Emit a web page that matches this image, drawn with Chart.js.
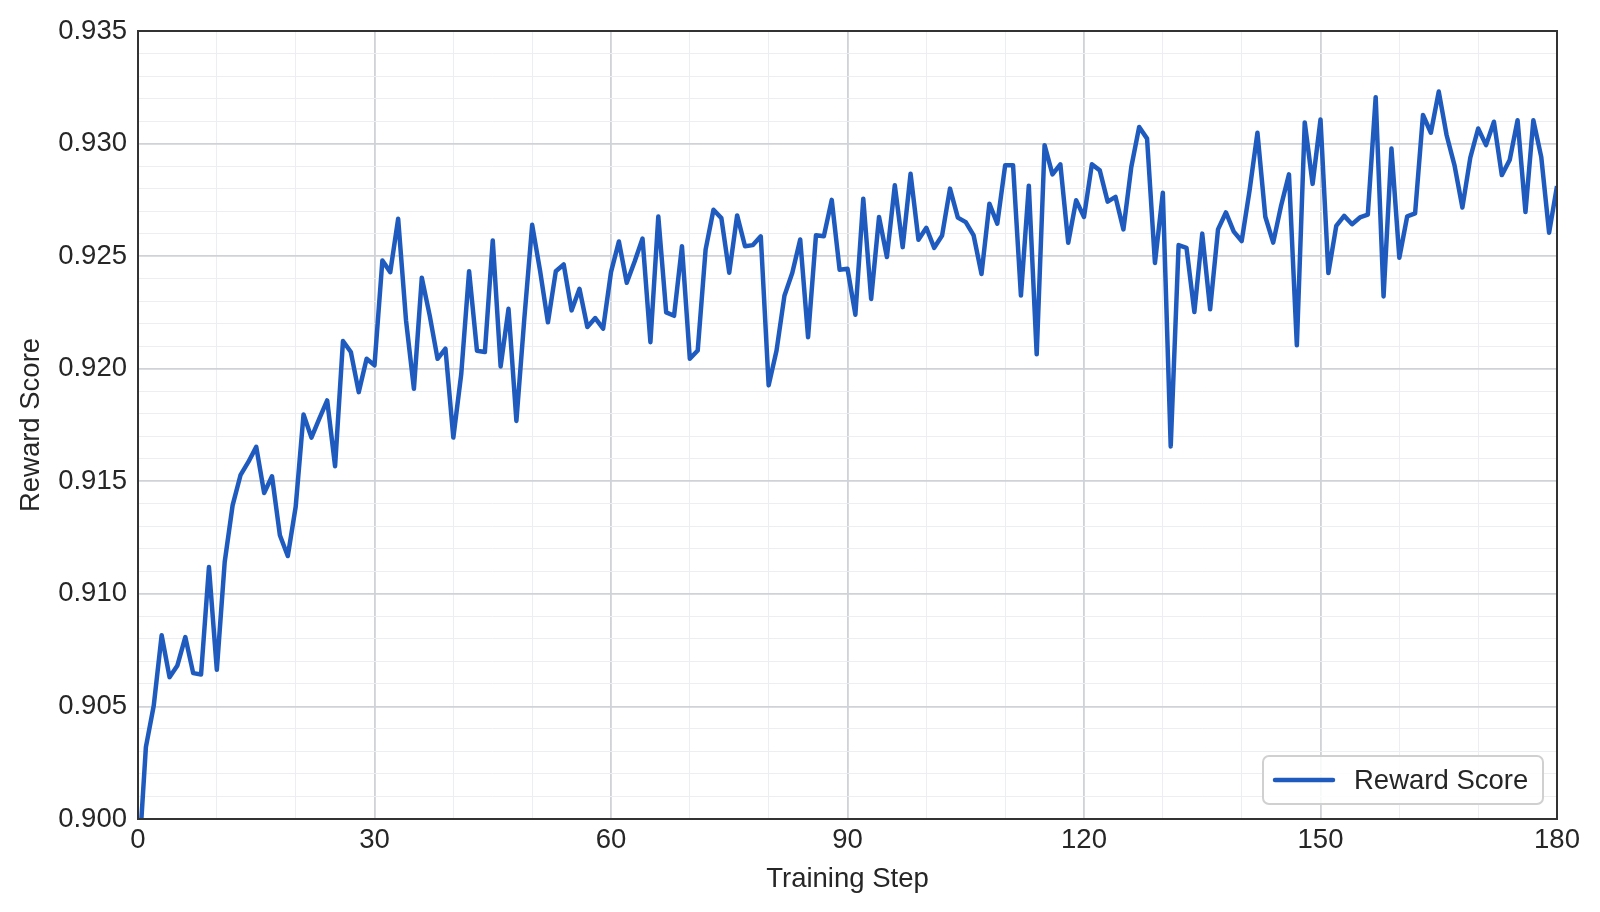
<!DOCTYPE html>
<html>
<head>
<meta charset="utf-8">
<title>Reward Score</title>
<script src="https://cdn.jsdelivr.net/npm/chart.js@4.4.1/dist/chart.umd.min.js"></script>
<style>
  html, body { margin: 0; padding: 0; background: #ffffff; }
  #wrap { width: 1600px; height: 912px; }
</style>
</head>
<body>
<div id="wrap"><canvas id="rewardChart" width="1600" height="912"></canvas></div>
<script>
// Nilai reward per training step (index = step, 0..180)
var rewardScore = [
  0.8976, 0.90319, 0.90504, 0.90816, 0.90630, 0.90682, 0.90808, 0.90648, 0.90642, 0.91119,
  0.90663, 0.91142, 0.91393, 0.91527, 0.91586, 0.91653, 0.91448, 0.91522, 0.91260, 0.91168,
  0.91386, 0.91797, 0.91694, 0.91778, 0.91859, 0.91567, 0.92123, 0.92074, 0.91896, 0.92044,
  0.92015, 0.92481, 0.92429, 0.92666, 0.92214, 0.91911, 0.92404, 0.92237, 0.92044, 0.92089,
  0.91694, 0.91975, 0.92433, 0.92080, 0.92074, 0.92570, 0.92010, 0.92266, 0.91768, 0.92220,
  0.92639, 0.92436, 0.92206, 0.92433, 0.92463, 0.92259, 0.92355, 0.92185, 0.92225, 0.92178,
  0.92429, 0.92565, 0.92382, 0.92476, 0.92578, 0.92118, 0.92676, 0.92250, 0.92235, 0.92544,
  0.92044, 0.92081, 0.92529, 0.92706, 0.92669, 0.92426, 0.92681, 0.92544, 0.92549, 0.92588,
  0.91926, 0.92081, 0.92324, 0.92426, 0.92574, 0.92140, 0.92593, 0.92588, 0.92750, 0.92440,
  0.92444, 0.92240, 0.92755, 0.92310, 0.92674, 0.92496, 0.92815, 0.92540, 0.92866, 0.92573,
  0.92626, 0.92537, 0.92592, 0.92800, 0.92671, 0.92651, 0.92592, 0.92421, 0.92733, 0.92644,
  0.92904, 0.92904, 0.92325, 0.92813, 0.92064, 0.92993, 0.92863, 0.92908, 0.92559, 0.92748,
  0.92674, 0.92908, 0.92881, 0.92742, 0.92763, 0.92619, 0.92896, 0.93074, 0.93022, 0.92470,
  0.92782, 0.91655, 0.92549, 0.92537, 0.92252, 0.92600, 0.92264, 0.92619, 0.92694, 0.92609,
  0.92567, 0.92791, 0.93048, 0.92675, 0.92560, 0.92724, 0.92863, 0.92104, 0.93094, 0.92821,
  0.93107, 0.92425, 0.92634, 0.92679, 0.92642, 0.92672, 0.92684, 0.93206, 0.92321, 0.92978,
  0.92493, 0.92677, 0.92690, 0.93127, 0.93048, 0.93231, 0.93037, 0.92903, 0.92716, 0.92937,
  0.93067, 0.92993, 0.93097, 0.92860, 0.92927, 0.93104, 0.92696, 0.93104, 0.92941, 0.92604,
  0.92811
];

// Tick berlabel (major) dan jarak grid minor
var xMajorTicks = [0, 30, 60, 90, 120, 150, 180];
var yMajorTicks = [0.900, 0.905, 0.910, 0.915, 0.920, 0.925, 0.930, 0.935];
var xMinorStep = 10;
var yMinorStep = 0.001;

var LINE_COLOR = '#1f5bbf';
var TEXT_COLOR = '#262626';
var FONT = 'Liberation Sans, Arial, Helvetica, sans-serif';

function isMajor(list, v) {
  return list.some(function (m) { return Math.abs(m - v) < 1e-7; });
}

function buildTicks(min, max, step) {
  var out = [];
  var n = Math.round((max - min) / step);
  for (var i = 0; i <= n; i++) out.push({ value: +(min + i * step).toFixed(4) });
  return out;
}

var points = rewardScore.map(function (v, i) { return { x: i, y: v }; });

// Bingkai plot (4 sisi) dan legenda di pojok kanan bawah
var framePlugin = {
  id: 'frameAndLegend',
  afterDraw: function (chart) {
    var ctx = chart.ctx;
    var a = chart.chartArea;
    ctx.save();
    ctx.strokeStyle = '#333333';
    ctx.lineWidth = 2;
    ctx.strokeRect(a.left, a.top, a.right - a.left, a.bottom - a.top);

    var w = 280, h = 48;
    var bx = a.right - 14 - w;
    var by = a.bottom - 15 - h;
    ctx.beginPath();
    ctx.roundRect(bx, by, w, h, 6);
    ctx.fillStyle = 'rgba(255,255,255,0.85)';
    ctx.fill();
    ctx.strokeStyle = '#d0d0d0';
    ctx.lineWidth = 2;
    ctx.stroke();

    var cy = by + h / 2;
    ctx.beginPath();
    ctx.moveTo(bx + 12, cy);
    ctx.lineTo(bx + 70, cy);
    ctx.strokeStyle = LINE_COLOR;
    ctx.lineWidth = 4.5;
    ctx.lineCap = 'round';
    ctx.stroke();

    ctx.fillStyle = TEXT_COLOR;
    ctx.font = '27.5px ' + FONT;
    ctx.textBaseline = 'middle';
    ctx.textAlign = 'left';
    ctx.fillText('Reward Score', bx + 91, cy + 1);
    ctx.restore();
  }
};

new Chart(document.getElementById('rewardChart').getContext('2d'), {
  type: 'line',
  data: {
    datasets: [{
      label: 'Reward Score',
      data: points,
      borderColor: LINE_COLOR,
      borderWidth: 4.5,
      borderJoinStyle: 'round',
      pointRadius: 0,
      tension: 0,
      fill: false,
      clip: 0
    }]
  },
  options: {
    responsive: false,
    devicePixelRatio: 1,
    animation: false,
    layout: { padding: { left: 0, top: 31, right: 43, bottom: 0 } },
    plugins: {
      legend: { display: false },
      tooltip: { enabled: false }
    },
    scales: {
      x: {
        type: 'linear',
        min: 0,
        max: 180,
        afterBuildTicks: function (s) { s.ticks = buildTicks(0, 180, xMinorStep); },
        afterFit: function (s) { s.height = 93; },
        border: { display: false },
        grid: {
          drawTicks: false,
          color: function (c) { return isMajor(xMajorTicks, c.tick.value) ? '#cfd2d6' : '#eceef1'; },
          lineWidth: function (c) { return isMajor(xMajorTicks, c.tick.value) ? 1.8 : 1; }
        },
        ticks: {
          autoSkip: false,
          maxRotation: 0,
          padding: 5,
          color: TEXT_COLOR,
          font: { family: FONT, size: 27.5 },
          callback: function (v) { return isMajor(xMajorTicks, v) ? String(v) : ''; }
        },
        title: {
          display: true,
          text: 'Training Step',
          color: TEXT_COLOR,
          font: { family: FONT, size: 27.5 },
          padding: { top: 0, bottom: 16 }
        }
      },
      y: {
        type: 'linear',
        min: 0.900,
        max: 0.935,
        afterBuildTicks: function (s) { s.ticks = buildTicks(0.900, 0.935, yMinorStep); },
        afterFit: function (s) { s.width = 138; },
        border: { display: false },
        grid: {
          drawTicks: false,
          color: function (c) { return isMajor(yMajorTicks, c.tick.value) ? '#cfd2d6' : '#eceef1'; },
          lineWidth: function (c) { return isMajor(yMajorTicks, c.tick.value) ? 1.8 : 1; }
        },
        ticks: {
          autoSkip: false,
          padding: 11,
          color: TEXT_COLOR,
          font: { family: FONT, size: 27.5 },
          callback: function (v) { return isMajor(yMajorTicks, v) ? v.toFixed(3) : ''; }
        },
        title: {
          display: true,
          text: 'Reward Score',
          color: TEXT_COLOR,
          font: { family: FONT, size: 27.5 },
          padding: { top: 15, bottom: 0 }
        }
      }
    }
  },
  plugins: [framePlugin]
});
</script>
</body>
</html>
